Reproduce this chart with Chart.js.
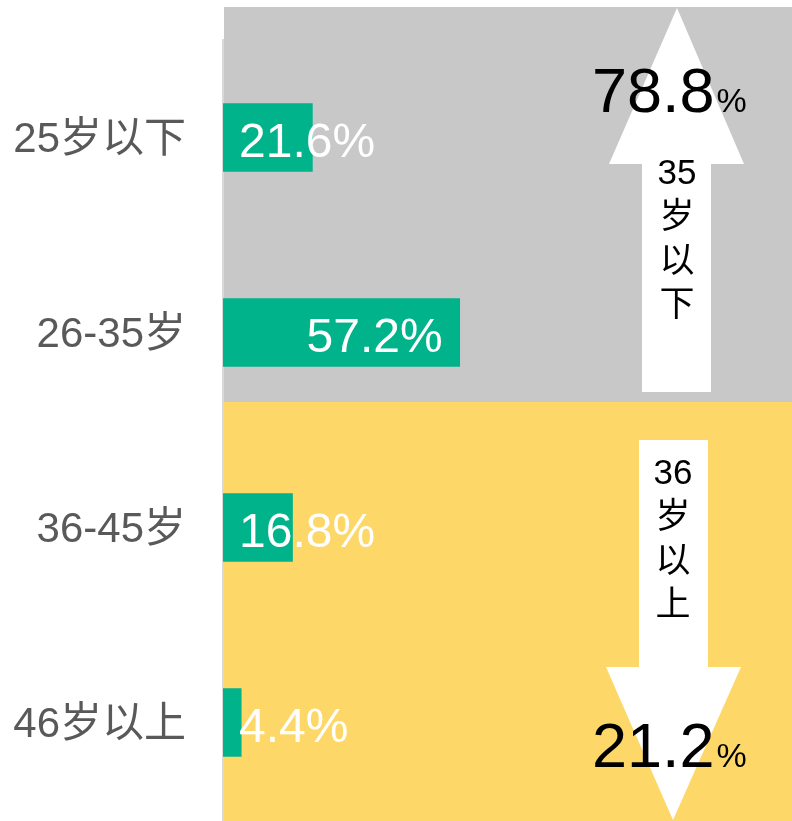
<!DOCTYPE html>
<html>
<head>
<meta charset="utf-8">
<script src="https://cdn.jsdelivr.net/npm/chart.js@4.4.1/dist/chart.umd.min.js"></script>
<style>
  html, body { margin: 0; padding: 0; background: #fff; }
  #wrap { width: 792px; height: 821px; }
</style>
</head>
<body>
<div id="wrap"><canvas id="ageChart"></canvas></div>
<script>
const ageGroups = ['25岁以下', '26-35岁', '36-45岁', '46岁以上'];
const sharePct = [21.6, 57.2, 16.8, 4.4];
const arrowTexts = [['35', '岁', '以', '下'], ['36', '岁', '以', '上']];

const latin = '"Liberation Sans", Arial, "Noto Sans CJK SC", sans-serif';
const cjk = '"Liberation Sans", "Noto Sans CJK SC", sans-serif';

// sums for the two halves
const youngTotal = (sharePct[0] + sharePct[1]).toFixed(1);
const oldTotal = (sharePct[2] + sharePct[3]).toFixed(1);

const bgPlugin = {
  id: 'halves',
  beforeDraw(chart) {
    const ctx = chart.ctx;
    ctx.save();
    ctx.fillStyle = '#c8c8c8';
    ctx.fillRect(224, 7, 568, 395);
    ctx.fillStyle = '#fdd868';
    ctx.fillRect(224, 402, 568, 419);
    ctx.restore();
  }
};

const barLabels = {
  id: 'barLabels',
  afterDatasetsDraw(chart) {
    const ctx = chart.ctx;
    const meta = chart.getDatasetMeta(0);
    ctx.save();
    ctx.font = '48px ' + latin;
    ctx.fillStyle = '#fff';
    ctx.textBaseline = 'alphabetic';
    meta.data.forEach((bar, i) => {
      const txt = sharePct[i].toFixed(1) + '%';
      const w = ctx.measureText(txt).width;
      const x = Math.max(bar.x - 17 - w, bar.base + 16);
      ctx.fillText(txt, x, bar.y + 19);
    });
    ctx.restore();
  }
};

function arrow(ctx, pts) {
  ctx.beginPath();
  ctx.moveTo(pts[0][0], pts[0][1]);
  for (let i = 1; i < pts.length; i++) ctx.lineTo(pts[i][0], pts[i][1]);
  ctx.closePath();
  ctx.fill();
}

function bigNumber(ctx, num, x, y) {
  ctx.font = '63px ' + latin;
  ctx.fillText(num, x, y);
  const w = ctx.measureText(num).width;
  ctx.font = '34px ' + latin;
  ctx.fillText('%', x + w + 2, y);
}

const arrowPlugin = {
  id: 'arrows',
  afterDraw(chart) {
    const ctx = chart.ctx;
    ctx.save();
    ctx.fillStyle = '#fff';
    arrow(ctx, [[677, 8], [744, 164], [711, 164], [711, 392], [642, 392], [642, 164], [609, 164]]);
    arrow(ctx, [[639, 440], [708, 440], [708, 667], [741, 667], [673, 820], [606, 667], [639, 667]]);

    ctx.fillStyle = '#000';
    ctx.textAlign = 'center';
    ctx.textBaseline = 'middle';
    ctx.font = '35px ' + cjk;
    arrowTexts[0].forEach((t, i) => ctx.fillText(t, 677, 174 + i * 44));
    arrowTexts[1].forEach((t, i) => ctx.fillText(t, 673, 474 + i * 44));

    ctx.textAlign = 'left';
    ctx.textBaseline = 'alphabetic';
    bigNumber(ctx, youngTotal, 592, 112);
    bigNumber(ctx, oldTotal, 592, 767);
    ctx.restore();
  }
};

new Chart(document.getElementById('ageChart'), {
  type: 'bar',
  data: {
    labels: ageGroups,
    datasets: [{
      data: sharePct,
      backgroundColor: 'rgb(0, 179, 138)',
      barThickness: 68
    }]
  },
  options: {
    indexAxis: 'y',
    responsive: true,
    maintainAspectRatio: false,
    animation: false,
    layout: { padding: { top: 40, bottom: 1, right: 0, left: 0 } },
    plugins: {
      legend: { display: false },
      tooltip: { enabled: false }
    },
    scales: {
      x: { display: false, min: 0, max: 137.5 },
      y: {
        afterFit(scale) {
          scale.width = 223;
          scale.paddingTop = 0;
          scale.paddingBottom = 0;
        },
        grid: { display: false, drawTicks: false },
        border: { display: true, color: '#d9d9d9', width: 2 },
        ticks: {
          padding: 37,
          labelOffset: 3,
          color: '#595959',
          font: { size: 42, family: cjk }
        }
      }
    }
  },
  plugins: [bgPlugin, barLabels, arrowPlugin]
});
</script>
</body>
</html>
